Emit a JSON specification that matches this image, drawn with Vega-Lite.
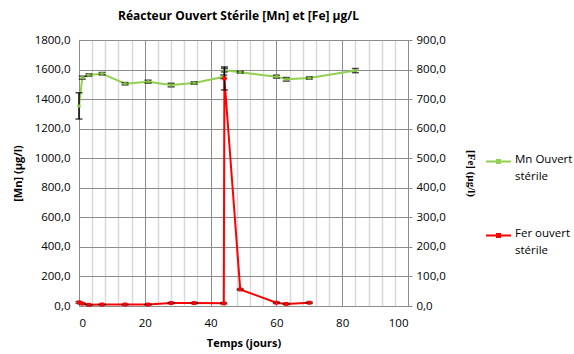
{
  "$schema": "https://vega.github.io/schema/vega-lite/v6.json",
  "width": 329,
  "height": 266,
  "autosize": {"type": "none"},
  "padding": {"left": 79, "top": 40, "right": 166, "bottom": 48},
  "background": "white",
  "config": {
    "view": {"stroke": null},
    "font": "Open Sans",
    "axis": {"labelFont": "Open Sans", "labelFontSize": 11.5, "labelColor": "#000", "titleFont": "Open Sans", "titleFontSize": 11, "titleFontWeight": "bold", "titleColor": "#000"},
    "legend": {"labelFont": "Open Sans", "labelFontSize": 11.5, "labelColor": "#000"}
  },
  "title": {"text": "Réacteur Ouvert Stérile [Mn] et [Fe] µg/L", "font": "Open Sans", "fontSize": 12, "fontWeight": "bold", "anchor": "middle", "offset": 11, "dx": -5, "color": "#000"},
  "datasets": {
    "mn": [
      {"serie": "Mn", "t": 0, "v": 1353, "lo": 1265, "hi": 1443},
      {"serie": "Mn", "t": 1, "v": 1545, "lo": 1535, "hi": 1555},
      {"serie": "Mn", "t": 3, "v": 1563, "lo": 1555, "hi": 1571},
      {"serie": "Mn", "t": 7, "v": 1572, "lo": 1564, "hi": 1580},
      {"serie": "Mn", "t": 14, "v": 1504, "lo": 1496, "hi": 1512},
      {"serie": "Mn", "t": 21, "v": 1518, "lo": 1508, "hi": 1528},
      {"serie": "Mn", "t": 28, "v": 1495, "lo": 1483, "hi": 1507},
      {"serie": "Mn", "t": 35, "v": 1509, "lo": 1501, "hi": 1517},
      {"serie": "Mn", "t": 44, "v": 1551, "lo": 1539, "hi": 1563},
      {"serie": "Mn", "t": 44.2, "v": 1596, "lo": 1584, "hi": 1608},
      {"serie": "Mn", "t": 49, "v": 1582, "lo": 1576, "hi": 1588},
      {"serie": "Mn", "t": 60, "v": 1552, "lo": 1542, "hi": 1562},
      {"serie": "Mn", "t": 63, "v": 1534, "lo": 1522, "hi": 1546},
      {"serie": "Mn", "t": 70, "v": 1543, "lo": 1535, "hi": 1551},
      {"serie": "Mn", "t": 84, "v": 1593, "lo": 1579, "hi": 1607}
    ],
    "fe": [
      {"serie": "Fe", "t": 0, "v": 12, "lo": 9, "hi": 15},
      {"serie": "Fe", "t": 1, "v": 8, "lo": 6, "hi": 10},
      {"serie": "Fe", "t": 3, "v": 4, "lo": 3, "hi": 5},
      {"serie": "Fe", "t": 7, "v": 5, "lo": 4, "hi": 6},
      {"serie": "Fe", "t": 14, "v": 5, "lo": 4, "hi": 6},
      {"serie": "Fe", "t": 21, "v": 5, "lo": 4, "hi": 6},
      {"serie": "Fe", "t": 28, "v": 10, "lo": 8, "hi": 12},
      {"serie": "Fe", "t": 35, "v": 10, "lo": 8, "hi": 12},
      {"serie": "Fe", "t": 44, "v": 9, "lo": 7, "hi": 11},
      {"serie": "Fe", "t": 44.2, "v": 770, "lo": 731, "hi": 809},
      {"serie": "Fe", "t": 49, "v": 56, "lo": 54, "hi": 58},
      {"serie": "Fe", "t": 60, "v": 11, "lo": 9, "hi": 13},
      {"serie": "Fe", "t": 63, "v": 7, "lo": 5, "hi": 9},
      {"serie": "Fe", "t": 70, "v": 11, "lo": 9, "hi": 13}
    ]
  },
  "encoding": {
    "x": {
      "field": "t", "type": "quantitative",
      "scale": {"domain": [0, 100], "nice": false, "zero": false},
      "axis": {
        "values": [0,4,8,12,16,20,24,28,32,36,40,44,48,52,56,60,64,68,72,76,80,84,88,92,96,100],
        "grid": true,
        "gridColor": {"condition": {"test": "datum.value % 20 === 0", "value": "#8c8c8c"}, "value": "#d9d9d9"},
        "gridWidth": {"condition": {"test": "datum.value % 20 === 0", "value": 1}, "value": 1.5},
        "ticks": false,
        "domainColor": "#8c8c8c",
        "labelExpr": "datum.value % 20 === 0 ? datum.label : ''",
        "labelOverlap": false,
        "labelPadding": 11,
        "title": "Temps (jours)",
        "titlePadding": 9
      }
    }
  },
  "layer": [
    {
      "data": {"name": "mn"},
      "encoding": {
        "y": {
          "field": "v", "type": "quantitative", "title": "[Mn] (µg/l)",
          "scale": {"domain": [0, 1800], "nice": false},
          "axis": {
            "orient": "left",
            "values": [0,200,400,600,800,1000,1200,1400,1600,1800],
            "grid": true, "gridColor": "#8c8c8c", "gridWidth": 1,
            "ticks": false, "domainColor": "#8c8c8c",
            "labelExpr": "replace(format(datum.value, '.1f'), '.', ',')",
            "labelPadding": 9,
            "titlePadding": 11
          }
        }
      },
      "layer": [
        {
          "mark": {"type": "line", "strokeWidth": 2},
          "encoding": {
            "color": {
              "field": "serie", "type": "nominal",
              "scale": {"domain": ["Mn", "Fe"], "range": ["#92d050", "#ff0000"]},
              "legend": {
                "orient": "none", "legendX": 406, "legendY": 108,
                "title": null,
                "symbolType": "M-1,0L1,0M-0.12,-0.12L0.12,-0.12L0.12,0.12L-0.12,0.12Z",
                "symbolSize": 625,
                "symbolStrokeWidth": 2,
                "labelExpr": "datum.label === 'Mn' ? ['Mn Ouvert', 'stérile'] : ['Fer ouvert', 'stérile']",
                "labelBaseline": "top",
                "labelOffset": 3,
                "rowPadding": 40,
                "encode": {"labels": {"update": {"dy": {"value": -8}, "lineHeight": {"value": 17}}}}
              }
            }
          }
        },
        {
          "mark": {"type": "rule", "color": "#000", "strokeWidth": 1.5},
          "encoding": {
            "y": {"field": "lo", "type": "quantitative", "title": "[Mn] (µg/l)"},
            "y2": {"field": "hi"}
          }
        },
        {
          "mark": {"type": "tick", "orient": "horizontal", "color": "#000", "size": 7, "thickness": 1.5},
          "encoding": {"y": {"field": "lo", "type": "quantitative", "title": "[Mn] (µg/l)"}}
        },
        {
          "mark": {"type": "tick", "orient": "horizontal", "color": "#000", "size": 7, "thickness": 1.5},
          "encoding": {"y": {"field": "hi", "type": "quantitative", "title": "[Mn] (µg/l)"}}
        },
        {
          "mark": {"type": "square", "color": "#7fbf3f", "size": 10, "opacity": 1}
        }
      ]
    },
    {
      "data": {"name": "fe"},
      "encoding": {
        "y": {
          "field": "v", "type": "quantitative", "title": "[Fe] (µg/l)",
          "scale": {"domain": [0, 900], "nice": false},
          "axis": {
            "orient": "right",
            "values": [0,100,200,300,400,500,600,700,800,900],
            "grid": false,
            "ticks": true, "tickSize": 4, "tickColor": "#8c8c8c",
            "domainColor": "#8c8c8c",
            "labelExpr": "replace(format(datum.value, '.1f'), '.', ',')",
            "labelPadding": 4,
            "titleFont": "Liberation Serif",
            "titleAngle": 90,
            "titlePadding": 20
          }
        }
      },
      "layer": [
        {
          "mark": {"type": "line", "strokeWidth": 2},
          "encoding": {"color": {"field": "serie", "type": "nominal"}}
        },
        {
          "mark": {"type": "rule", "color": "#000", "strokeWidth": 1.5},
          "encoding": {
            "y": {"field": "lo", "type": "quantitative", "title": "[Fe] (µg/l)"},
            "y2": {"field": "hi"}
          }
        },
        {
          "mark": {"type": "tick", "orient": "horizontal", "color": "#000", "size": 7, "thickness": 1.5},
          "encoding": {"y": {"field": "lo", "type": "quantitative", "title": "[Fe] (µg/l)"}}
        },
        {
          "mark": {"type": "tick", "orient": "horizontal", "color": "#000", "size": 7, "thickness": 1.5},
          "encoding": {"y": {"field": "hi", "type": "quantitative", "title": "[Fe] (µg/l)"}}
        },
        {
          "mark": {"type": "square", "color": "#ff0000", "size": 16, "opacity": 1}
        }
      ]
    }
  ],
  "resolve": {"scale": {"y": "independent"}}
}
